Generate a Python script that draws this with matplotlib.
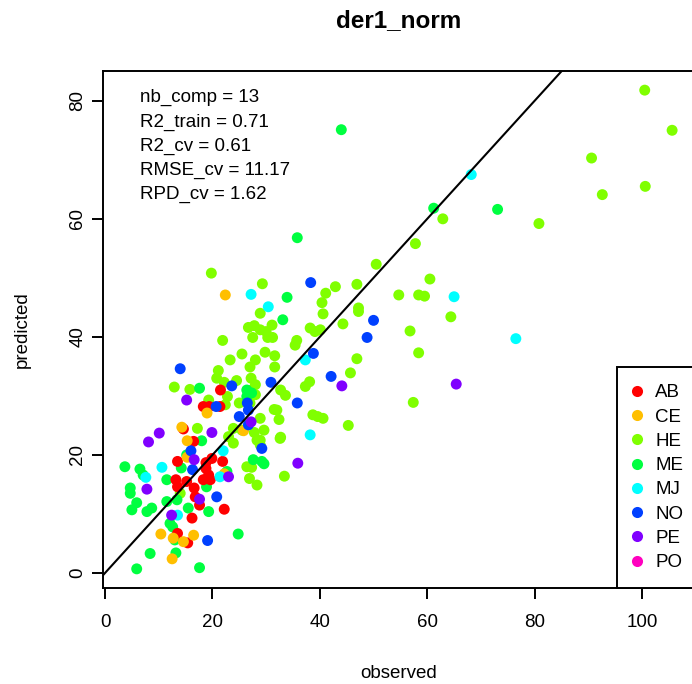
import numpy as np
import matplotlib.pyplot as plt

plt.rcParams['font.family'] = ['Liberation Sans', 'DejaVu Sans']

# observed / predicted values per group
groups = ['AB', 'CE', 'HE', 'ME', 'MJ', 'NO', 'PE', 'PO']
colors = ['#FF0000', '#FFBF00', '#80FF00', '#00FF40', '#00FFFF', '#0040FF', '#8000FF', '#FF00BF']

ab_obs = [21.5, 18.3, 19.4, 21.4, 14.6, 16.5, 13.5, 19.9, 18.8, 21.9, 18.8, 19.3, 18.3, 19.6,
          13.2, 13.5, 15.2, 16.6, 16.8, 17.6, 22.2, 16.2, 13.5, 15.4]
ab_pred = [31.0, 28.2, 28.2, 28.2, 24.4, 22.3, 18.9, 19.4, 18.7, 18.9, 17.7, 16.6, 15.8, 15.8,
           15.8, 14.6, 15.5, 14.4, 12.9, 11.5, 10.8, 9.3, 6.7, 5.1]

ce_obs = [22.4, 19.0, 25.8, 14.3, 15.3, 15.3, 22.2, 10.4, 12.7, 16.5, 14.6, 12.5]
ce_pred = [47.1, 27.1, 24.1, 24.7, 22.4, 19.6, 16.8, 6.6, 5.9, 6.4, 5.3, 2.4]

he_obs = [100.5, 105.6, 90.6, 100.6, 92.6, 62.9, 80.8, 57.8, 50.5, 46.9, 60.5, 54.7, 58.4, 59.5,
          47.2, 47.2, 56.8, 64.4, 58.4, 46.9, 45.7, 57.4, 45.3,
          19.8, 29.3, 42.9, 41.1, 40.4, 40.6, 28.9, 26.7, 27.8, 28.9, 30.0, 31.1, 30.3, 27.5, 31.2,
          38.2, 39.1, 40.1, 44.3, 21.9, 35.7, 35.4, 29.8, 31.6, 25.5, 23.3, 28.0, 27.0, 31.6,
          21.1, 20.8, 22.2, 24.5, 27.2, 28.0, 27.3, 37.3, 38.1, 32.7, 33.6, 31.5, 32.0, 32.4,
          38.7, 39.6, 40.6, 32.7, 28.9, 33.4, 12.9, 15.8, 22.8, 22.4, 19.3, 25.0, 28.0, 27.0,
          25.5, 28.9, 29.6, 32.6, 23.9, 23.0, 23.9, 27.8, 28.3, 28.9, 17.2, 26.4, 27.3, 26.9,
          28.3, 14.0]
he_pred = [81.8, 75.0, 70.3, 65.5, 64.1, 60.0, 59.2, 55.8, 52.3, 48.9, 49.8, 47.1, 47.1, 46.9,
           44.9, 44.3, 41.0, 43.4, 37.3, 36.3, 33.9, 28.9, 25.0,
           50.8, 49.0, 48.5, 47.4, 45.8, 43.9, 44.0, 41.6, 41.9, 41.2, 40.9, 42.0, 39.9, 39.9, 39.9,
           41.5, 40.9, 41.2, 42.2, 39.4, 39.4, 38.6, 37.4, 36.8, 37.1, 36.1, 36.1, 34.9, 34.9,
           34.3, 33.0, 32.3, 32.6, 33.0, 31.9, 31.0, 31.6, 32.4, 31.0, 30.1, 27.7, 27.6, 26.0,
           26.8, 26.5, 26.2, 23.0, 22.5, 16.4, 31.5, 31.1, 29.9, 28.5, 29.3, 28.8, 30.2, 28.8,
           24.2, 26.2, 24.2, 22.8, 24.5, 23.1, 22.0, 23.8, 22.5, 21.7, 24.5, 18.0, 17.9, 16.0,
           14.9, 13.5]

me_obs = [44.0, 35.8, 61.2, 73.1, 33.9, 33.1, 29.2, 29.6, 17.6, 26.4, 26.4, 27.3, 18.0, 27.6,
          3.7, 6.5, 7.1, 4.7, 4.7, 5.9, 5.0, 7.8, 8.7, 11.5, 11.5, 19.3, 12.1, 12.6, 24.8, 8.4,
          13.2, 5.9, 17.6, 15.2, 14.2, 15.5, 13.0, 13.4, 18.9, 22.7]
me_pred = [75.1, 56.8, 61.8, 61.6, 46.7, 42.9, 18.9, 18.5, 31.3, 31.0, 29.9, 30.5, 22.4, 19.2,
           18.0, 17.6, 16.6, 14.4, 13.5, 11.9, 10.7, 10.4, 11.0, 15.8, 12.1, 10.4, 8.4, 7.8, 6.6, 3.3,
           3.4, 0.7, 0.9, 20.0, 17.8, 11.0, 5.6, 12.4, 14.6, 17.2]

mj_obs = [68.2, 65.0, 76.5, 27.2, 30.4, 37.3, 38.2, 22.0, 21.4, 7.6, 10.6, 13.5]
mj_pred = [67.5, 46.8, 39.7, 47.2, 45.1, 36.1, 23.4, 20.7, 16.3, 16.2, 17.9, 9.8]

no_obs = [50.0, 48.8, 38.3, 38.8, 42.1, 30.9, 35.8, 29.2, 23.6, 20.7, 26.5, 26.7, 25.0, 26.7,
          16.0, 16.3, 14.0, 20.8, 19.1]
no_pred = [42.8, 39.9, 49.2, 37.2, 33.3, 32.3, 28.8, 21.1, 31.7, 28.2, 28.8, 27.6, 26.5, 25.1,
           20.7, 17.5, 34.6, 12.9, 5.5]

pe_obs = [65.4, 44.1, 35.9, 15.2, 19.9, 27.2, 8.1, 10.1, 16.6, 23.0, 7.8, 17.6, 12.4]
pe_pred = [32.0, 31.7, 18.6, 29.3, 23.8, 25.6, 22.2, 23.7, 19.2, 16.3, 14.2, 12.5, 9.8]

po_obs = []
po_pred = []

stats = ['nb_comp = 13', 'R2_train = 0.71', 'R2_cv = 0.61', 'RMSE_cv = 11.17', 'RPD_cv = 1.62']

obs = [ab_obs, ce_obs, he_obs, me_obs, mj_obs, no_obs, pe_obs, po_obs]
pred = [ab_pred, ce_pred, he_pred, me_pred, mj_pred, no_pred, pe_pred, po_pred]


def r_range(vals):
    # R style axis range: data range stretched by 4% on each side
    lo, hi = min(vals), max(vals)
    d = 0.04 * (hi - lo)
    return lo - d, hi + d


all_x = sum(obs, [])
all_y = sum(pred, [])

fig = plt.figure(figsize=(6.92, 6.84), dpi=100)
ax = fig.add_axes([103 / 692, 96 / 684, 591 / 692, 517 / 684])

draw_order = [2, 3, 0, 1, 4, 5, 6, 7]
for i in draw_order:
    ax.scatter(obs[i], pred[i], s=62, color=colors[i], edgecolors='none', zorder=2)

ax.set_xlim(*r_range(all_x))
ax.set_ylim(*r_range(all_y))
ax.axline((0, 0), slope=1, color='black', lw=1.5, zorder=3)

ax.set_xticks([0, 20, 40, 60, 80, 100])
ax.set_yticks([0, 20, 40, 60, 80])
ax.tick_params(direction='out', length=8, width=1.4, labelsize=13.5)
ax.tick_params(axis='x', pad=10.5)
ax.tick_params(axis='y', pad=4)
for lab in ax.get_yticklabels():
    lab.set_rotation(90)
    lab.set_va('center')
for sp in ax.spines.values():
    sp.set_linewidth(1.4)

ax.set_xlabel('observed', fontsize=13.5, labelpad=25)
ax.set_ylabel('predicted', fontsize=13.5, labelpad=28)
ax.set_title('der1_norm', fontsize=17.5, fontweight='bold', pad=31.5)

for k, s in enumerate(stats):
    ax.annotate(s, xy=(0.063, 0.948), xycoords='axes fraction',
                xytext=(0, -17.3 * k), textcoords='offset points',
                fontsize=13.5, va='center', ha='left')

handles = [plt.Line2D([], [], marker='o', ls='', color=c, markersize=8, markeredgewidth=0)
           for c in colors]
leg = ax.legend(handles, groups, loc='lower right', bbox_to_anchor=(1 + 6 / 591, 0),
                borderaxespad=0, fontsize=13.5,
                frameon=True, fancybox=False, edgecolor='black', framealpha=1,
                handlelength=0.3, handletextpad=0.82, labelspacing=0.38, borderpad=0.9)
leg.get_frame().set_linewidth(1.4)
leg.set_zorder(5)

fig.savefig('out.png', dpi=100)
